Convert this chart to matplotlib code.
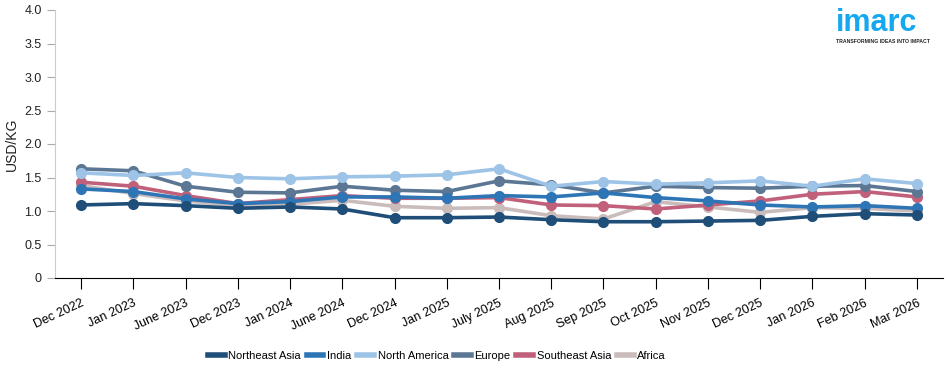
import numpy as np
import matplotlib.pyplot as plt

plt.rcParams['font.family'] = ['Liberation Sans', 'DejaVu Sans']

dates = ['Dec 2022', 'Jan 2023', 'June 2023', 'Dec 2023', 'Jan 2024', 'June 2024',
         'Dec 2024', 'Jan 2025', 'July 2025', 'Aug 2025', 'Sep 2025', 'Oct 2025',
         'Nov 2025', 'Dec 2025', 'Jan 2026', 'Feb 2026', 'Mar 2026']

northeast_asia = [1.09, 1.11, 1.08, 1.04, 1.06, 1.03, 0.90, 0.90, 0.91, 0.87, 0.84, 0.84, 0.85, 0.86, 0.92, 0.96, 0.94]
india = [1.33, 1.29, 1.18, 1.11, 1.14, 1.21, 1.21, 1.19, 1.23, 1.21, 1.27, 1.20, 1.15, 1.09, 1.06, 1.08, 1.04]
north_america = [1.57, 1.53, 1.57, 1.50, 1.48, 1.51, 1.52, 1.54, 1.63, 1.37, 1.44, 1.40, 1.42, 1.45, 1.37, 1.48, 1.41]
europe = [1.63, 1.60, 1.37, 1.28, 1.27, 1.37, 1.31, 1.29, 1.45, 1.39, 1.27, 1.37, 1.35, 1.34, 1.37, 1.38, 1.29]
southeast_asia = [1.43, 1.37, 1.23, 1.11, 1.17, 1.23, 1.19, 1.19, 1.20, 1.09, 1.08, 1.03, 1.09, 1.15, 1.25, 1.29, 1.21]
africa = [1.38, 1.26, 1.15, 1.08, 1.10, 1.16, 1.07, 1.04, 1.05, 0.93, 0.88, 1.14, 1.06, 0.98, 1.05, 1.04, 1.00]

# draw order: back to front
series = [
    ('Africa', africa, '#cbbcbc'),
    ('Southeast Asia', southeast_asia, '#c0607a'),
    ('Europe', europe, '#5b7794'),
    ('North America', north_america, '#9dc3e6'),
    ('India', india, '#2e75b6'),
    ('Northeast Asia', northeast_asia, '#1f4e79'),
]
legend_order = ['Northeast Asia', 'India', 'North America', 'Europe', 'Southeast Asia', 'Africa']

fig = plt.figure(figsize=(9.5, 3.73), dpi=100)
ax = fig.add_axes([55/950, 1 - 278/373, 888/950, 268/373])

x = np.arange(len(dates))
lines = {}
for name, vals, col in series:
    ln, = ax.plot(x, vals, '-o', color=col, lw=2.6, ms=7, label=name)
    lines[name] = ln

ax.set_xlim(-0.5, len(dates) - 0.5)
ax.set_ylim(0, 4.0)
ax.set_yticks(np.arange(0, 4.01, 0.5))
ax.set_yticklabels(['0'] + ['%.1f' % v for v in np.arange(0.5, 4.01, 0.5)])
ax.set_xticks(x)
ax.set_xticklabels(dates, rotation=25, ha='right', rotation_mode='anchor')

for s in ['top', 'right']:
    ax.spines[s].set_visible(False)
ax.spines['left'].set_color('#cccccc')
ax.spines['bottom'].set_color('black')
ax.tick_params(axis='y', colors='#aaaaaa', labelcolor='#222222', length=6, labelsize=9)
ax.tick_params(axis='x', colors='black', length=8, labelsize=9, pad=6)
ax.set_ylabel('USD/KG', fontsize=10, color='#222222')

handles = [lines[n] for n in legend_order]
leg = fig.legend(handles, legend_order, loc='center', bbox_to_anchor=(0.46, 1 - 356/373),
                 ncol=6, frameon=False, fontsize=8, handlelength=1.5, handletextpad=0.35,
                 columnspacing=0.5)
for h in leg.legend_handles:
    h.set_marker('')
    h.set_linewidth(4)

fig.text(836/950, 1 - 31/373, 'imarc', color='#14a8f0', fontsize=22, fontweight='bold',
         ha='left', va='baseline')
fig.text(836/950, 1 - 43/373, 'TRANSFORMING IDEAS INTO IMPACT', color='#222222', fontsize=3.7,
         fontweight='bold', ha='left', va='baseline')

fig.savefig('out.png', dpi=100)
